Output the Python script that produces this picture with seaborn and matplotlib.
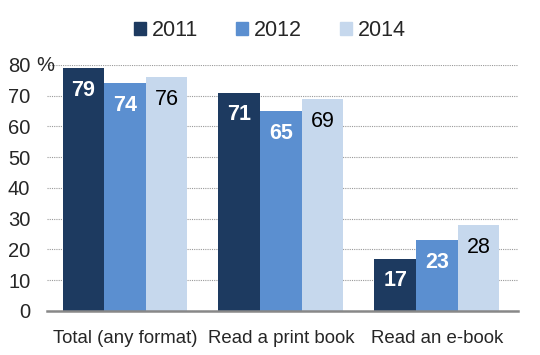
import numpy as np
import pandas as pd
import matplotlib
matplotlib.use('Agg')
import matplotlib.pyplot as plt
from matplotlib.patches import Patch
import seaborn as sns

categories = ['Total (any format)', 'Read a print book', 'Read an e-book']
years = ['2011', '2012', '2014']
values_2011 = [79, 71, 17]
values_2012 = [74, 65, 23]
values_2014 = [76, 69, 28]

colors = ['#1d3a60', '#5b8fd0', '#c6d8ed']
text_colors = ['white', 'white', 'black']

rows = []
for yr, vals in zip(years, [values_2011, values_2012, values_2014]):
    for c, v in zip(categories, vals):
        rows.append({'category': c, 'year': yr, 'value': v})
df = pd.DataFrame(rows)

sns.set_style('white')
plt.rcParams['font.family'] = ['Liberation Sans', 'DejaVu Sans']

fig = plt.figure(figsize=(5.4, 3.55), dpi=100)
ax = fig.add_axes([0.087, 0.124, 0.872, 0.693])

sns.barplot(data=df, x='category', y='value', hue='year', palette=colors,
            width=0.8, saturation=1, legend=False, linewidth=0, ax=ax)

for i, cont in enumerate(ax.containers):
    for bar in cont:
        h = bar.get_height()
        ax.annotate(f'{int(h)}', (bar.get_x() + bar.get_width() / 2, h),
                    xytext=(0, -16), textcoords='offset points',
                    ha='center', va='center', fontsize=15.5,
                    color=text_colors[i],
                    fontweight='bold' if text_colors[i] == 'white' else 'normal')

ax.set_ylim(0, 80)
ax.set_xlim(-0.5, 2.52)
ax.set_yticks(range(0, 81, 10))
ax.set_yticklabels([str(t) for t in range(0, 81, 10)])
# percent sign next to the top tick label
ax.annotate('%', (0, 80), xycoords=ax.get_yaxis_transform(),
            xytext=(-7.5, -0.5), textcoords='offset points',
            ha='left', va='center', fontsize=14.5)
ax.yaxis.grid(True, linestyle=(0, (1, 1)), color='#999999', linewidth=0.8)
ax.set_axisbelow(True)
for s in ['top', 'right', 'left']:
    ax.spines[s].set_visible(False)
ax.spines['bottom'].set_color('#888888')
ax.spines['bottom'].set_linewidth(1.8)
ax.tick_params(axis='y', length=0, labelsize=14.5, pad=12)
ax.tick_params(axis='x', length=0, labelsize=13.4, pad=14)
ax.set_xlabel('')
ax.set_ylabel('')

handles = [Patch(color=c, label=y) for c, y in zip(colors, years)]
fig.legend(handles=handles, loc='center', bbox_to_anchor=(0.5, 0.913), ncol=3,
           frameon=False, fontsize=15.5, handlelength=0.55, handleheight=0.55,
           handletextpad=0.3, columnspacing=1.75)

fig.savefig('out.png', dpi=100)
